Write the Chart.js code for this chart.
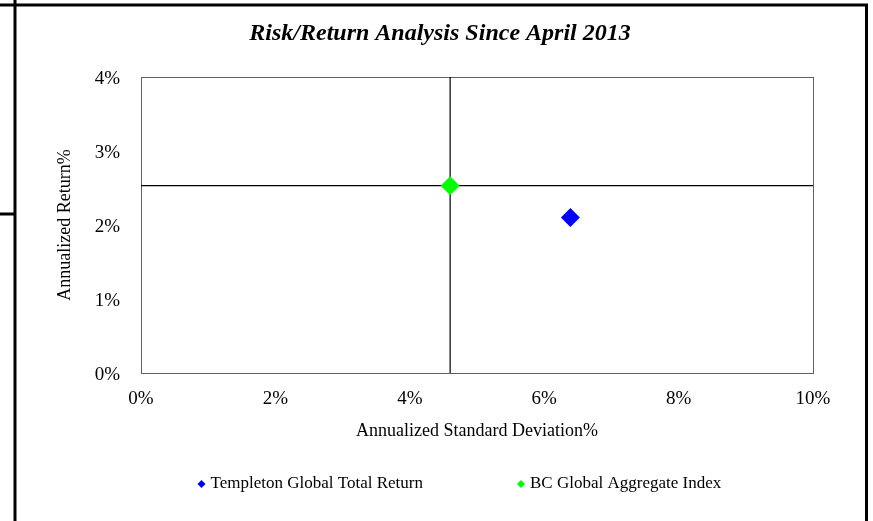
<!DOCTYPE html>
<html>
<head>
<meta charset="utf-8">
<title>Risk/Return</title>
<script src="https://cdn.jsdelivr.net/npm/chart.js@4/dist/chart.umd.min.js"></script>
<style>
  body { margin: 0; background: #fff; }
</style>
</head>
<body>
<canvas id="riesgoChart" width="873" height="521"></canvas>
<script>
// Datos del grafico
var nombresSeries = ['Templeton Global Total Return', 'BC Global Aggregate Index'];
var desviacion = [6.39, 4.60];   // desviacion estandar anualizada (%)
var rentabilidad = [2.10, 2.53]; // rentabilidad anualizada (%)
var ticksX = [0, 2, 4, 6, 8, 10];
var ticksY = [0, 1, 2, 3, 4];
var indiceRef = 1; // el indice de referencia marca las lineas cruzadas

var fuente = "'Liberation Serif', 'Times New Roman', serif";
var coloresSeries = ['#0000FF', '#00FF00'];

// Marco exterior negro
var marcoPlugin = {
  id: 'marco',
  afterDraw: function(chart) {
    var ctx = chart.ctx;
    ctx.save();
    ctx.strokeStyle = '#000';
    ctx.lineWidth = 3;
    ctx.beginPath();
    ctx.moveTo(0, 5); ctx.lineTo(868, 5);
    ctx.moveTo(15, 0); ctx.lineTo(15, 521);
    ctx.moveTo(866.5, 3.5); ctx.lineTo(866.5, 521);
    ctx.moveTo(0, 214); ctx.lineTo(15, 214);
    ctx.stroke();
    ctx.restore();
  }
};

// Borde gris del area de trazado
var bordePlugin = {
  id: 'bordeArea',
  beforeDatasetsDraw: function(chart) {
    var a = chart.chartArea;
    var ctx = chart.ctx;
    ctx.save();
    ctx.strokeStyle = '#606060';
    ctx.lineWidth = 1;
    ctx.strokeRect(Math.round(a.left) + 0.5, Math.round(a.top) + 0.5,
                   Math.round(a.right - a.left), Math.round(a.bottom - a.top));
    ctx.restore();
  }
};

// Leyenda dibujada a mano (rombos + texto)
var leyendaPlugin = {
  id: 'leyenda',
  afterDraw: function(chart) {
    var ctx = chart.ctx;
    var posX = [201.5, 521];
    var cy = 484, r = 4;
    ctx.save();
    ctx.font = '17px ' + fuente;
    ctx.textBaseline = 'middle';
    ctx.textAlign = 'left';
    for (var i = 0; i < nombresSeries.length; i++) {
      var ds = chart.data.datasets[i];
      var cx = posX[i];
      ctx.fillStyle = ds.backgroundColor;
      ctx.beginPath();
      ctx.moveTo(cx, cy - r);
      ctx.lineTo(cx + r, cy);
      ctx.lineTo(cx, cy + r);
      ctx.lineTo(cx - r, cy);
      ctx.closePath();
      ctx.fill();
      ctx.fillStyle = '#000';
      ctx.fillText(ds.label, cx + 9, cy);
    }
    ctx.restore();
  }
};

var xMin = ticksX[0], xMax = ticksX[ticksX.length - 1];
var yMin = ticksY[0], yMax = ticksY[ticksY.length - 1];

// Series de puntos
var datasets = nombresSeries.map(function(nombre, i) {
  return {
    label: nombre,
    data: [{ x: desviacion[i], y: rentabilidad[i] }],
    backgroundColor: coloresSeries[i],
    borderColor: coloresSeries[i],
    borderWidth: 0,
    pointStyle: 'rectRot',
    pointRadius: 9.5,
    order: 0
  };
});

// Lineas cruzadas sobre el indice de referencia
datasets.push({
  label: 'vertical',
  data: [{ x: desviacion[indiceRef], y: yMin }, { x: desviacion[indiceRef], y: yMax }],
  showLine: true,
  borderColor: '#000',
  borderWidth: 1.2,
  pointRadius: 0,
  order: 1
});
datasets.push({
  label: 'horizontal',
  data: [{ x: xMin, y: rentabilidad[indiceRef] }, { x: xMax, y: rentabilidad[indiceRef] }],
  showLine: true,
  borderColor: '#000',
  borderWidth: 1.2,
  pointRadius: 0,
  order: 1
});

function porcentaje(v) {
  return v + '%';
}

new Chart(document.getElementById('riesgoChart').getContext('2d'), {
  type: 'scatter',
  data: { datasets: datasets },
  options: {
    responsive: false,
    animation: false,
    layout: { padding: { left: 20, right: 13, top: 0, bottom: 68 } },
    plugins: {
      legend: { display: false },
      tooltip: { enabled: false },
      title: {
        display: true,
        text: 'Risk/Return Analysis Since April 2013',
        color: '#000',
        font: { family: fuente, size: 24, style: 'italic', weight: 'bold' },
        padding: { top: 19, bottom: 29 }
      }
    },
    scales: {
      x: {
        type: 'linear',
        min: xMin,
        max: xMax,
        afterBuildTicks: function(scale) {
          scale.ticks = ticksX.map(function(v) { return { value: v }; });
        },
        afterFit: function(scale) { scale.height = 80; },
        grid: { display: false, drawTicks: false, tickLength: 0 },
        border: { display: false },
        ticks: { padding: 15, color: '#000', font: { family: fuente, size: 19 }, callback: porcentaje },
        title: {
          display: true,
          text: 'Annualized Standard Deviation%',
          color: '#000',
          font: { family: fuente, size: 18 },
          padding: { top: 0, bottom: 11 }
        }
      },
      y: {
        type: 'linear',
        position: 'left',
        min: yMin,
        max: yMax,
        afterBuildTicks: function(scale) {
          scale.ticks = ticksY.map(function(v) { return { value: v }; });
        },
        afterFit: function(scale) { scale.width = 121; },
        grid: { display: false, drawTicks: false, tickLength: 0 },
        border: { display: false },
        ticks: { padding: 21, labelOffset: 2, color: '#000', font: { family: fuente, size: 19 }, callback: porcentaje },
        title: {
          display: true,
          text: 'Annualized Return%',
          color: '#000',
          font: { family: fuente, size: 18 },
          padding: { top: 34, bottom: 0 }
        }
      },
      // eje vacio a la derecha, solo reserva espacio
      y2: {
        type: 'linear',
        position: 'right',
        afterFit: function(scale) { scale.width = 47; },
        grid: { display: false, drawTicks: false },
        border: { display: false },
        ticks: { display: false }
      }
    }
  },
  plugins: [bordePlugin, leyendaPlugin, marcoPlugin]
});
</script>
</body>
</html>
